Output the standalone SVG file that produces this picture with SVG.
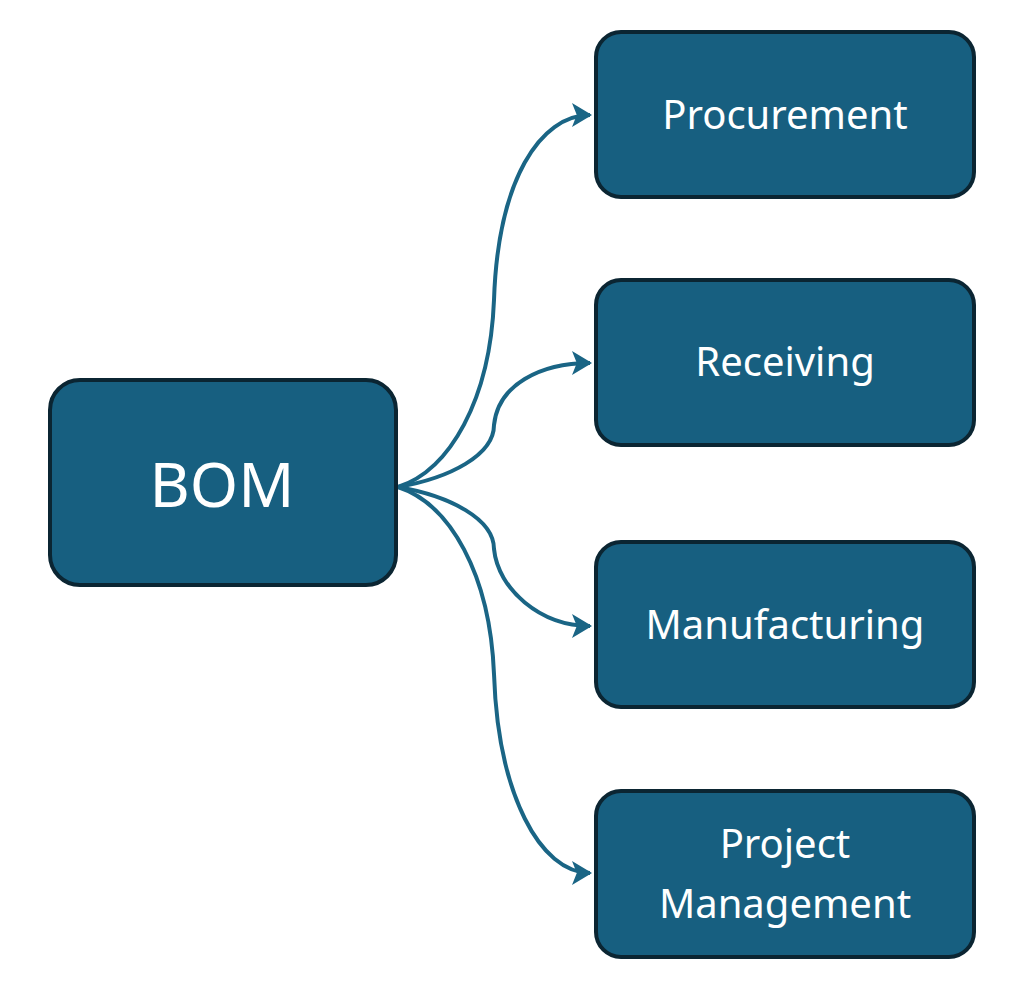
<svg xmlns="http://www.w3.org/2000/svg" width="1024" height="982" viewBox="0 0 1024 982">
<defs>
<marker id="ah" markerWidth="6" markerHeight="6" refX="4.5" refY="3" orient="auto" markerUnits="strokeWidth"><path d="M0,0 L5,3 L0,6 L1.2,3 Z" fill="#1a6585"/></marker>
<style>
.box{fill:#175f80;stroke:#0b2532;stroke-width:4}
.t{font-family:"Noto Sans","Open Sans",sans-serif;fill:#fff;text-anchor:middle}
.c{fill:none;stroke:#1a6585;stroke-width:4;marker-end:url(#ah)}
</style>
</defs>
<rect width="1024" height="982" fill="#fff"/>
<g id="connectors">
<path class="c" d="M398,487 C450,470 490,400 494,300 C498,180 540,115 590,115"/>
<path class="c" d="M398,487 C450,478 494,455 494,425 C498,385 540,363 590,363"/>
<path class="c" d="M398,487 C450,496 494,519 494,549 C498,589 540,626 590,626"/>
<path class="c" d="M398,487 C450,504 490,574 494,674 C498,794 540,873 590,873"/>
</g>
<g id="bom"><rect class="box" x="50" y="380" width="346" height="205" rx="30"/><text class="t" x="222" y="507" font-size="62">BOM</text></g>
<g id="procurement"><rect class="box" x="596" y="32" width="378" height="165" rx="25"/><text class="t" x="785" y="129" font-size="40">Procurement</text></g>
<g id="receiving"><rect class="box" x="596" y="280" width="378" height="165" rx="25"/><text class="t" x="785" y="376" font-size="40">Receiving</text></g>
<g id="manufacturing"><rect class="box" x="596" y="542" width="378" height="165" rx="25"/><text class="t" x="785" y="639" font-size="40">Manufacturing</text></g>
<g id="pm"><rect class="box" x="596" y="791" width="378" height="166" rx="25"/><text class="t" x="785" y="858" font-size="40">Project</text><text class="t" x="785" y="918" font-size="40">Management</text></g>
</svg>
